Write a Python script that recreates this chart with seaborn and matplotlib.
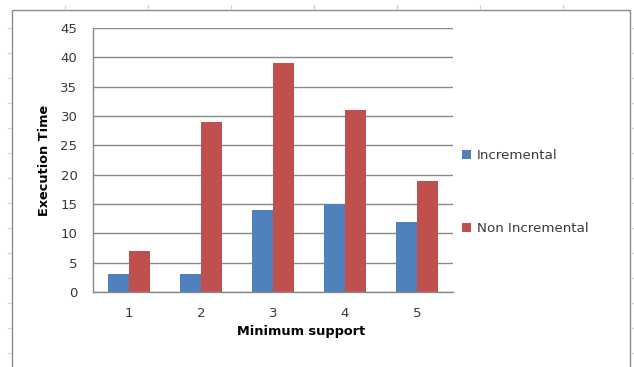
import matplotlib
matplotlib.use("Agg")
import matplotlib.pyplot as plt
from matplotlib.patches import Rectangle
from matplotlib.lines import Line2D
import pandas as pd
import seaborn as sns

# Data
support = ["1", "2", "3", "4", "5"]
incremental = [3, 3, 14, 15, 12]
non_incremental = [7, 29, 39, 31, 19]
series_names = ["Incremental", "Non Incremental"]
y_ticks = [0, 5, 10, 15, 20, 25, 30, 35, 40, 45]

df = pd.DataFrame({
    "support": support * 2,
    "time": incremental + non_incremental,
    "series": [series_names[0]] * len(support) + [series_names[1]] * len(support),
})

sns.set_theme(style="white")
plt.rcParams["font.family"] = ["DejaVu Sans"]

W, H = 634, 367
fig = plt.figure(figsize=(W / 100, H / 100), dpi=100)
fig.patch.set_facecolor("white")

def fx(px):
    return px / W

def fy(py):
    return (H - py) / H

ax = fig.add_axes([fx(92.7), fy(292), fx(453) - fx(92.7), fy(28) - fy(292)])

palette = {"Incremental": "#4F81BD", "Non Incremental": "#C0504D"}
sns.barplot(data=df, x="support", y="time", hue="series", order=support,
            hue_order=series_names, palette=palette, width=0.58, gap=0,
            linewidth=0, saturation=1, legend=False, ax=ax)

grid_c = "#8a8a8a"
text_c = "#3a3a3a"
ax.set_ylim(0, 45)
ax.set_xlim(-0.5, len(support) - 0.5)
ax.set_yticks(y_ticks)
ax.set_yticklabels([str(v) for v in y_ticks])
ax.yaxis.grid(True, color=grid_c, linewidth=1)
ax.set_axisbelow(True)

# category separators as minor ticks
ax.set_xticks([i - 0.5 for i in range(len(support) + 1)], minor=True)
ax.tick_params(axis="x", which="major", length=0, pad=11, labelsize=9.5, labelcolor=text_c)
ax.tick_params(axis="x", which="minor", length=5, width=1, color=grid_c, direction="out")
ax.tick_params(axis="y", which="major", length=5, width=1, color=grid_c, direction="out",
               pad=6, labelsize=9.5, labelcolor=text_c)

for s in ["top", "right"]:
    ax.spines[s].set_visible(False)
for s in ["left", "bottom"]:
    ax.spines[s].set_color(grid_c)
    ax.spines[s].set_linewidth(1)

ax.set_xlabel("Minimum support", fontsize=9.3, fontweight="bold", color="black")
ax.set_ylabel("Execution Time", fontsize=9.3, fontweight="bold", color="black")
ax.xaxis.set_label_coords((301 - 92.7) / (453 - 92.7), (292 - 331) / (292 - 28))
ax.xaxis.label.set_va("center")
ax.yaxis.set_label_coords((45 - 92.7) / (453 - 92.7), 0.5)
ax.yaxis.label.set_va("center")

handles = [Rectangle((0, 0), 1, 1, facecolor=palette[n], edgecolor="none") for n in series_names]
fig.legend(handles, series_names, loc="center left",
           bbox_to_anchor=(fx(462), fy(192)), frameon=False, fontsize=9.6,
           handlelength=0.68, handleheight=0.68, handletextpad=0.45,
           labelspacing=4.5, borderpad=0, borderaxespad=0, labelcolor=text_c)

# chart area border
fig.patches.append(Rectangle((fx(12), -0.1), fx(630) - fx(12), fy(10) + 0.1,
                             transform=fig.transFigure, fill=False,
                             edgecolor="#8c8c8c", linewidth=1))

# faint sheet cell markers around the chart
faint = "#d4d4d4"
for px in [65, 148, 231, 314, 397, 480, 563]:
    fig.lines.append(Line2D([fx(px), fx(px)], [fy(5), fy(9)], transform=fig.transFigure,
                            color=faint, linewidth=1))
for py in range(28, 367, 25):
    fig.lines.append(Line2D([fx(8), fx(11)], [fy(py), fy(py)], transform=fig.transFigure,
                            color=faint, linewidth=1))
    fig.lines.append(Line2D([fx(631), fx(634)], [fy(py), fy(py)], transform=fig.transFigure,
                            color=faint, linewidth=1))

fig.savefig("out.png", dpi=100, facecolor="white")
